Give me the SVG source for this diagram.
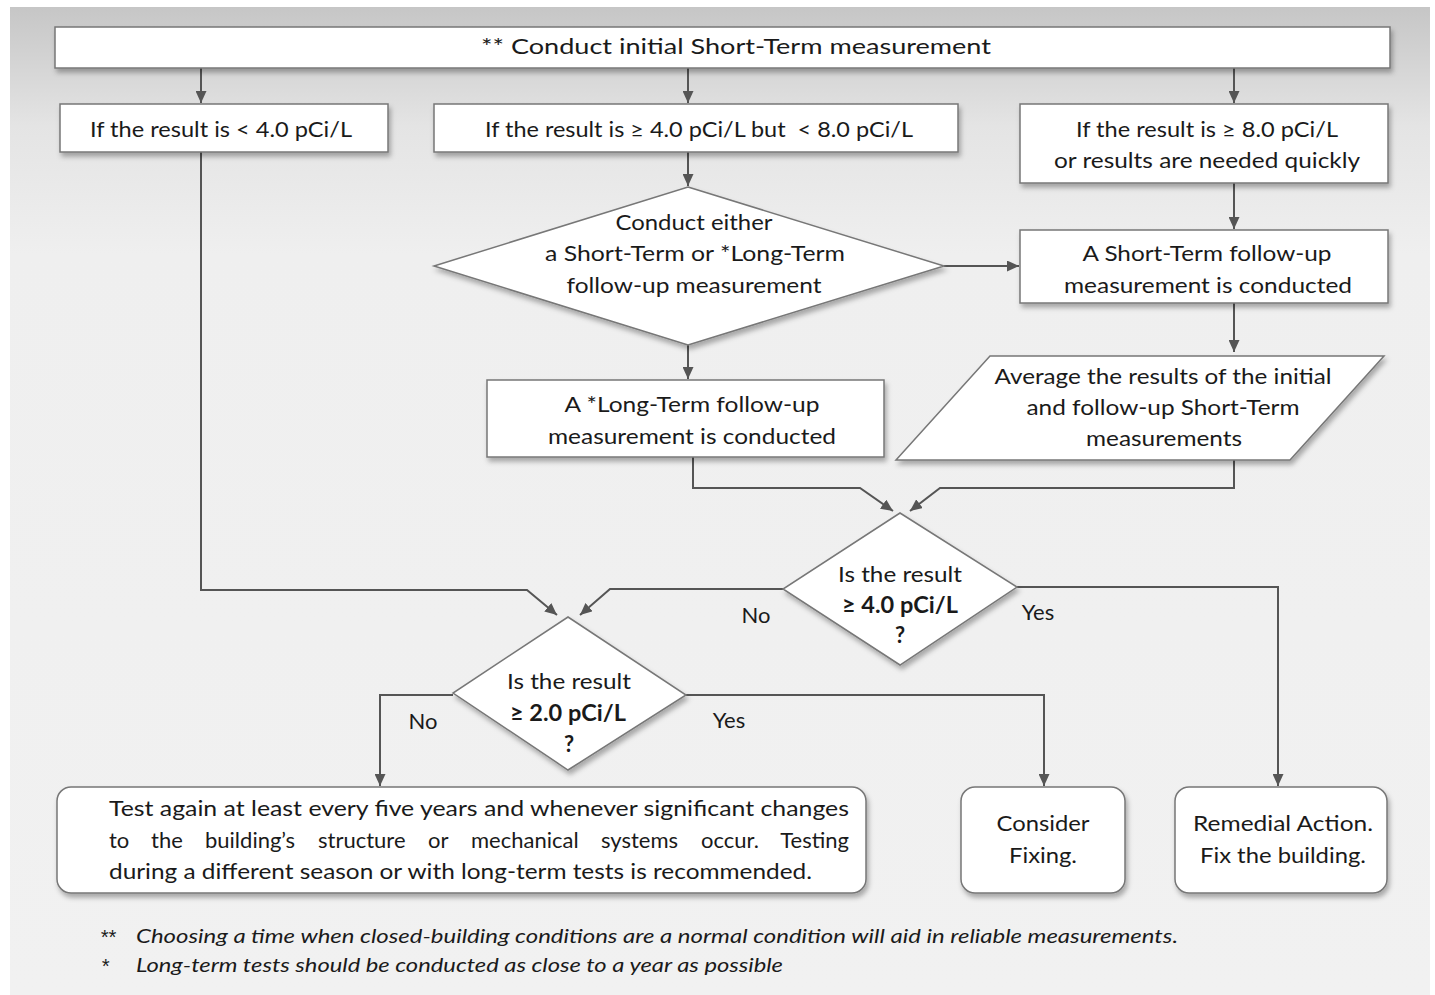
<svg xmlns="http://www.w3.org/2000/svg" width="1435" height="995" viewBox="0 0 1435 995">
<style>
.t{font-family:Lato,"Open Sans","Liberation Sans",sans-serif;font-size:22px;fill:#1a1a1a;text-anchor:middle}
.b{font-weight:bold}
.l{text-anchor:start}
.fn{font-family:Lato,"Liberation Sans",sans-serif;font-size:20px;font-style:italic;fill:#1a1a1a}
.ast{font-family:"Liberation Sans",sans-serif;font-size:20px;font-style:italic;fill:#1a1a1a}
.shape{fill:#fff;stroke:#777;stroke-width:1.5;filter:url(#sh)}
.ca{fill:none;stroke:#555;stroke-width:2;marker-end:url(#ah)}
</style>
<defs>
<linearGradient id="bg" x1="0" y1="0" x2="0" y2="1">
<stop offset="0" stop-color="#c6c6c6"/>
<stop offset="0.12" stop-color="#e4e4e4"/>
<stop offset="0.25" stop-color="#efefef"/>
<stop offset="1" stop-color="#f1f1f1"/>
</linearGradient>
<filter id="sh" x="-10%" y="-20%" width="120%" height="150%">
<feDropShadow dx="2" dy="4" stdDeviation="2.5" flood-color="#000" flood-opacity="0.3"/>
</filter>
<marker id="ah" markerUnits="userSpaceOnUse" markerWidth="12" markerHeight="11" refX="12" refY="5.5" orient="auto">
<path d="M0,0 L12,5.5 L0,11 z" fill="#555"/>
</marker>
</defs>
<rect x="0" y="0" width="1435" height="995" fill="#fff"/>
<rect x="10" y="7" width="1420" height="990" fill="url(#bg)"/>

<g id="connectors">
<path class="ca" d="M201,68 V103"/>
<path class="ca" d="M688,68 V103"/>
<path class="ca" d="M1234,68 V103"/>
<path class="ca" d="M688,152 V186"/>
<path class="ca" d="M944,266 H1019"/>
<path class="ca" d="M1234,183 V229"/>
<path class="ca" d="M1234,303 V352"/>
<path class="ca" d="M688,345 V379"/>
<path class="ca" d="M693,457 V488 H860 L893,511"/>
<path class="ca" d="M1234,460 V488 H940 L910,511"/>
<path class="ca" d="M201,152 V590 H527 L557,615"/>
<path class="ca" d="M783,589 H610 L580,615"/>
<path class="ca" d="M453,695 H380 V786"/>
<path class="ca" d="M686,695 H1044 V786"/>
<path class="ca" d="M1017,587 H1278 V786"/>
</g>

<g id="start">
<rect class="shape" x="55" y="27" width="1335" height="41"/>
<text class="t" x="736" y="54" textLength="510" lengthAdjust="spacingAndGlyphs">** Conduct initial Short-Term measurement</text>
</g>
<g id="low">
<rect class="shape" x="60" y="104" width="328" height="48"/>
<text class="t" x="221" y="137" textLength="262" lengthAdjust="spacingAndGlyphs">If the result is &lt; 4.0 pCi/L</text>
</g>
<g id="mid">
<rect class="shape" x="434" y="104" width="524" height="48"/>
<text class="t" x="699" y="137" textLength="428" lengthAdjust="spacingAndGlyphs" xml:space="preserve">If the result is ≥ 4.0 pCi/L but  &lt; 8.0 pCi/L</text>
</g>
<g id="high">
<rect class="shape" x="1020" y="104" width="368" height="79"/>
<text class="t" x="1207" y="137" textLength="262" lengthAdjust="spacingAndGlyphs">If the result is ≥ 8.0 pCi/L</text>
<text class="t" x="1207" y="168" textLength="306" lengthAdjust="spacingAndGlyphs">or results are needed quickly</text>
</g>
<g id="either">
<polygon class="shape" points="688,187 944,266 688,345 434,266"/>
<text class="t" x="694" y="230" textLength="157" lengthAdjust="spacingAndGlyphs">Conduct either</text>
<text class="t" x="695" y="261" textLength="300" lengthAdjust="spacingAndGlyphs">a Short-Term or *Long-Term</text>
<text class="t" x="694" y="293" textLength="255" lengthAdjust="spacingAndGlyphs">follow-up measurement</text>
</g>
<g id="shortfollow">
<rect class="shape" x="1020" y="230" width="368" height="73"/>
<text class="t" x="1207" y="261" textLength="249" lengthAdjust="spacingAndGlyphs">A Short-Term follow-up</text>
<text class="t" x="1208" y="293" textLength="288" lengthAdjust="spacingAndGlyphs">measurement is conducted</text>
</g>
<g id="longfollow">
<rect class="shape" x="487" y="380" width="397" height="77"/>
<text class="t" x="692" y="412" textLength="255" lengthAdjust="spacingAndGlyphs">A *Long-Term follow-up</text>
<text class="t" x="692" y="444" textLength="288" lengthAdjust="spacingAndGlyphs">measurement is conducted</text>
</g>
<g id="average">
<polygon class="shape" points="990,356 1384,356 1290,460 896,460"/>
<text class="t" x="1163" y="384" textLength="337" lengthAdjust="spacingAndGlyphs">Average the results of the initial</text>
<text class="t" x="1163" y="415" textLength="273" lengthAdjust="spacingAndGlyphs">and follow-up Short-Term</text>
<text class="t" x="1164" y="446" textLength="156" lengthAdjust="spacingAndGlyphs">measurements</text>
</g>
<g id="q4">
<polygon class="shape" points="900,513 1017,587 900,665 783,589"/>
<text class="t" x="900" y="582" textLength="124" lengthAdjust="spacingAndGlyphs">Is the result</text>
<text class="t b" x="900" y="613" textLength="116" lengthAdjust="spacingAndGlyphs">≥ 4.0 pCi/L</text>
<text class="t b" x="900" y="643">?</text>
<text class="t" x="756" y="623">No</text>
<text class="t" x="1038" y="620">Yes</text>
</g>
<g id="q2">
<polygon class="shape" points="568,617 686,695 568,770 453,693"/>
<text class="t" x="569" y="689" textLength="124" lengthAdjust="spacingAndGlyphs">Is the result</text>
<text class="t b" x="568" y="721" textLength="116" lengthAdjust="spacingAndGlyphs">≥ 2.0 pCi/L</text>
<text class="t b" x="569" y="752">?</text>
<text class="t" x="423" y="729">No</text>
<text class="t" x="729" y="728">Yes</text>
</g>
<g id="retest">
<rect class="shape" x="57" y="787" width="809" height="106" rx="14"/>
<text class="t l" x="109" y="816" textLength="740" lengthAdjust="spacingAndGlyphs">Test again at least every five years and whenever significant changes</text>
<text class="t l" y="848"><tspan x="109">to</tspan><tspan x="151">the</tspan><tspan x="205">building’s</tspan><tspan x="318">structure</tspan><tspan x="428">or</tspan><tspan x="471">mechanical</tspan><tspan x="601">systems</tspan><tspan x="701">occur.</tspan><tspan x="849" text-anchor="end">Testing</tspan></text>
<text class="t l" x="109" y="879" textLength="703" lengthAdjust="spacingAndGlyphs">during a different season or with long-term tests is recommended.</text>
</g>
<g id="consider">
<rect class="shape" x="961" y="787" width="164" height="106" rx="14"/>
<text class="t" x="1043" y="831" textLength="93" lengthAdjust="spacingAndGlyphs">Consider</text>
<text class="t" x="1043" y="863" textLength="68" lengthAdjust="spacingAndGlyphs">Fixing.</text>
</g>
<g id="remedial">
<rect class="shape" x="1175" y="787" width="212" height="106" rx="14"/>
<text class="t" x="1283" y="831" textLength="180" lengthAdjust="spacingAndGlyphs">Remedial Action.</text>
<text class="t" x="1283" y="863" textLength="166" lengthAdjust="spacingAndGlyphs">Fix the building.</text>
</g>
<g id="footnotes">
<text class="ast" x="100" y="944">**</text>
<text class="fn" x="136" y="943" textLength="1042" lengthAdjust="spacingAndGlyphs">Choosing a time when closed-building conditions are a normal condition will aid in reliable measurements.</text>
<text class="ast" x="101" y="973">*</text>
<text class="fn" x="136" y="972" textLength="647" lengthAdjust="spacingAndGlyphs">Long-term tests should be conducted as close to a year as possible</text>
</g>
</svg>
